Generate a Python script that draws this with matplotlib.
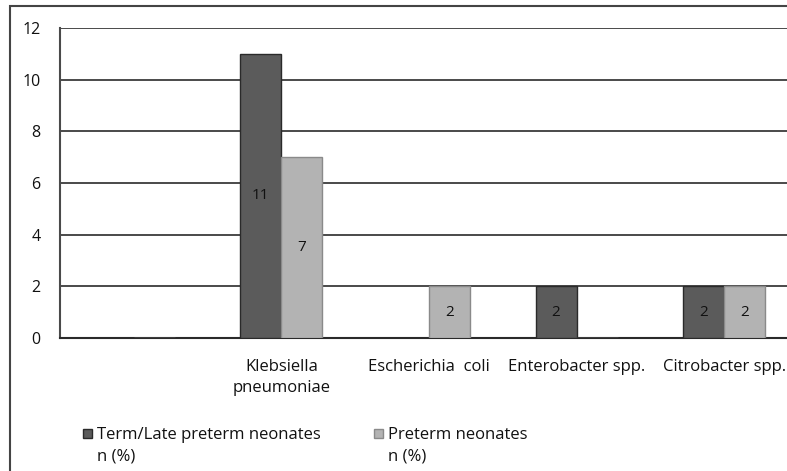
import matplotlib
matplotlib.use("Agg")
import matplotlib.pyplot as plt
from matplotlib.patches import Rectangle
import numpy as np

categories = ["", "Klebsiella\npneumoniae", "Escherichia  coli", "Enterobacter spp.", "Citrobacter spp."]
term_late = [0, 11, 0, 2, 2]
preterm = [0, 7, 2, 0, 2]
series_names = ["Term/Late preterm neonates\nn (%)", "Preterm neonates\nn (%)"]
yticks = [0, 2, 4, 6, 8, 10, 12]

plt.rcParams['font.family'] = ['Open Sans', 'DejaVu Sans']
FS = 12

W, H = 787, 471
fig = plt.figure(figsize=(W / 100, H / 100), dpi=100)

def fx(px):
    return px / W

def fy(py):
    return 1 - py / H

ax_left, ax_right, ax_top, ax_bot = 60, 798, 28, 338
ax = fig.add_axes([fx(ax_left), fy(ax_bot), fx(ax_right - ax_left), (ax_bot - ax_top) / H])

dark = "#5b5b5b"
light = "#b3b3b3"
x = np.arange(len(categories))
bw = 0.278

b1 = ax.bar(x - bw / 2, term_late, bw, color=dark, edgecolor="#2a2a2a", linewidth=1.0, zorder=3)
b2 = ax.bar(x + bw / 2, preterm, bw, color=light, edgecolor="#8a8a8a", linewidth=1.0, zorder=3)

for bars, vals in ((b1, term_late), (b2, preterm)):
    for rect, v in zip(bars, vals):
        if v > 0:
            ax.text(rect.get_x() + rect.get_width() / 2, v / 2, str(v),
                    ha="center", va="center", fontsize=FS - 1, color="#111111", zorder=4)

ax.set_xlim(-0.5, len(categories) - 0.5)
ax.set_ylim(0, 12)
ax.set_yticks(yticks)
ax.set_yticklabels([str(t) for t in yticks])
ax.yaxis.grid(True, color="#4a4a4a", linewidth=1.4, zorder=0)
ax.set_axisbelow(True)
ax.tick_params(axis="y", length=0, pad=14, labelsize=FS - 0.5, labelcolor="#111111")
ax.set_xticks(x)
ax.set_xticklabels(categories, fontsize=FS, color="#111111", linespacing=1.45)
ax.tick_params(axis="x", length=0, pad=15)

for side in ("top", "right"):
    ax.spines[side].set_visible(False)
ax.spines["left"].set_color("#4a4a4a")
ax.spines["left"].set_linewidth(1.5)
ax.spines["bottom"].set_color("#2a2a2a")
ax.spines["bottom"].set_linewidth(1.5)

# outer frame
fig.add_artist(Rectangle((fx(9.5), -0.1), 2, fy(5.5) + 0.1, transform=fig.transFigure,
                         fill=False, edgecolor="#444444", linewidth=1.5))

# legend
leg_items = [(dark, "#2a2a2a", series_names[0], 83), (light, "#8a8a8a", series_names[1], 374)]
for fc, ec, name, px in leg_items:
    fig.add_artist(Rectangle((fx(px), fy(438)), fx(9), 9 / H, transform=fig.transFigure,
                             facecolor=fc, edgecolor=ec, linewidth=1.0))
    fig.text(fx(px + 14), fy(427), name, ha="left", va="top", fontsize=FS,
             color="#111111", linespacing=1.45)

fig.savefig("out.png", dpi=100)
